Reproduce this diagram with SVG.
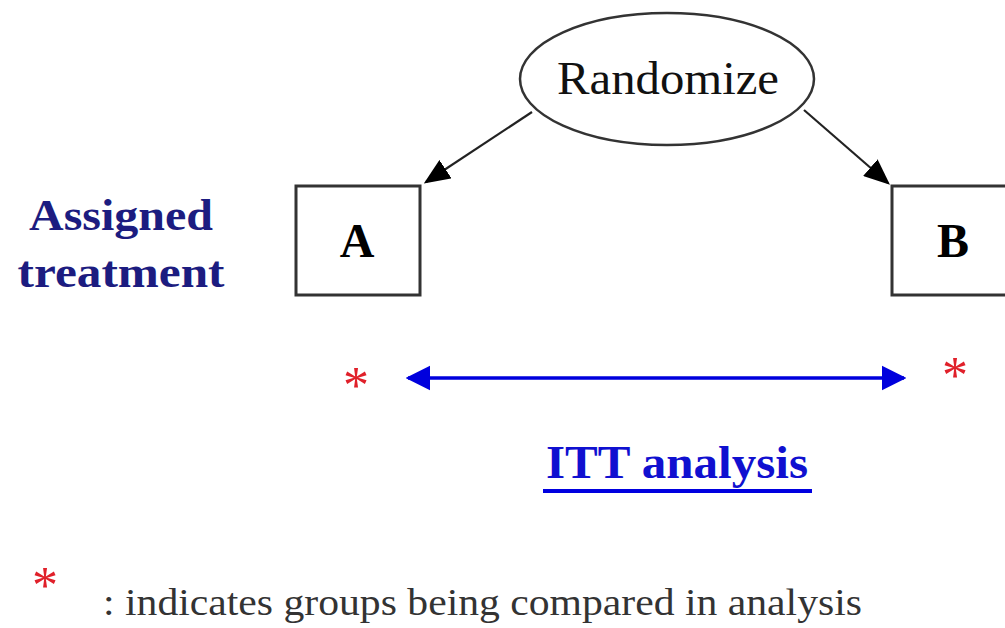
<svg xmlns="http://www.w3.org/2000/svg" width="1005" height="628" viewBox="0 0 1005 628">
<style>
.serif{font-family:"Liberation Serif","Times New Roman",serif}
.box{fill:#fff;stroke:#333;stroke-width:3}
.lbl{font-weight:bold;fill:#000}
.navy{font-weight:bold;fill:#1c1c80}
.star{fill:#e0202a}
</style>
<defs>
<marker id="ah" viewBox="0 0 10 10" refX="9" refY="5" markerWidth="26" markerHeight="22" markerUnits="userSpaceOnUse" orient="auto" preserveAspectRatio="none">
<path d="M0,0 L10,5 L0,10 z" fill="#000"/>
</marker>
<marker id="bh" viewBox="0 0 10 10" refX="9" refY="5" markerWidth="7" markerHeight="8" orient="auto-start-reverse">
<path d="M0,0 L10,5 L0,10 z" fill="#0000dd"/>
</marker>
</defs>
<rect width="1005" height="628" fill="#fff"/>
<g id="connectors">
<line x1="532" y1="112" x2="426" y2="182" stroke="#222" stroke-width="2.2" marker-end="url(#ah)"/>
<line x1="804" y1="110" x2="888" y2="183" stroke="#222" stroke-width="2.2" marker-end="url(#ah)"/>
<line x1="408" y1="378" x2="904" y2="378" stroke="#0000dd" stroke-width="3.5" marker-start="url(#bh)" marker-end="url(#bh)"/>
</g>
<g id="randomize">
<ellipse cx="667" cy="79" rx="147" ry="66" fill="#fff" stroke="#333" stroke-width="2.5"/>
<text class="serif" x="668" y="94" font-size="46" text-anchor="middle" textLength="222" lengthAdjust="spacingAndGlyphs" fill="#111">Randomize</text>
</g>
<g id="nodeA">
<rect class="box" x="296" y="186" width="124" height="109"/>
<text class="serif lbl" x="357" y="257" font-size="48" text-anchor="middle">A</text>
</g>
<g id="nodeB">
<rect class="box" x="892" y="186" width="124" height="109"/>
<text class="serif lbl" x="953" y="257" font-size="48" text-anchor="middle">B</text>
</g>
<g id="assigned">
<text class="serif navy" x="121" y="230" font-size="44" text-anchor="middle" textLength="184" lengthAdjust="spacingAndGlyphs">Assigned</text>
<text class="serif navy" x="121" y="287" font-size="44" text-anchor="middle" textLength="207" lengthAdjust="spacingAndGlyphs">treatment</text>
</g>
<g id="stars">
<text class="serif star" x="356" y="403" font-size="52" text-anchor="middle">*</text>
<text class="serif star" x="955" y="393" font-size="52" text-anchor="middle">*</text>
<text class="serif star" x="45" y="603" font-size="52" text-anchor="middle">*</text>
</g>
<g id="itt">
<text class="serif" x="677" y="478" font-size="46" font-weight="bold" fill="#1010d0" text-anchor="middle" textLength="262" lengthAdjust="spacingAndGlyphs">ITT analysis</text>
<line x1="543" y1="491" x2="812" y2="491" stroke="#0000e0" stroke-width="4"/>
</g>
<g id="footnote">
<text class="serif" x="103" y="615" font-size="38" fill="#333" textLength="759" lengthAdjust="spacingAndGlyphs">: indicates groups being compared in analysis</text>
</g>
</svg>
